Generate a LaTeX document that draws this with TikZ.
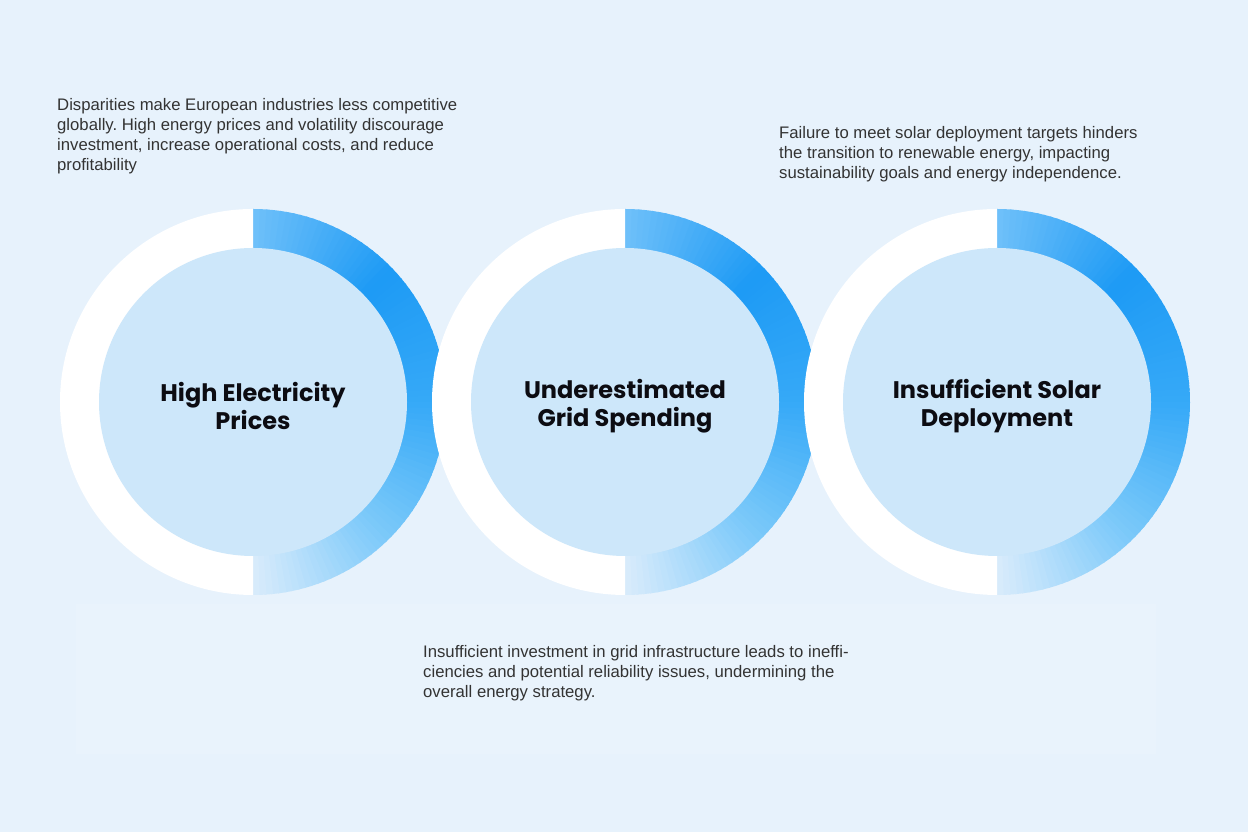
\documentclass[tikz,border=0pt]{standalone}
\usepackage{fontspec}
\setmainfont{Liberation Sans}
\newfontfamily\titlefont{Poppins}[UprightFont=* SemiBold,BoldFont=* Bold]
\definecolor{bg}{RGB}{231,242,252}
\definecolor{innerc}{RGB}{205,231,250}
\definecolor{desctext}{RGB}{51,51,51}
\definecolor{titletext}{RGB}{12,12,18}
\tikzset{
  desc/.style={anchor=north west, inner sep=0pt, align=left, text=desctext,
    font=\frenchspacing\fontsize{16.7}{20}\selectfont},
  inner disc/.style={circle, fill=innerc, minimum size=308pt, inner sep=0pt},
  title/.style={align=center, text=titletext, inner sep=0pt,
    font=\titlefont\bfseries\fontsize{24}{28}\selectfont},
}
\def\rs{{110,30,55,125,220}}
\def\gs{{192,155,170,202,237}}
\def\bs{{250,245,248,250,252}}
\begin{document}
\begin{tikzpicture}[x=1pt,y=1pt]
\useasboundingbox (0,0) rectangle (1248,832);
\fill[bg] (0,0) rectangle (1248,832);
% faint panel behind the bottom text
\fill[white, opacity=0.12] (76,78) rectangle (1156,228);
\foreach \cx/\nm/\ttl in {253/1/{High Electricity\\Prices},
                         625/2/{Underestimated\\Grid Spending},
                         997/3/{Insufficient Solar\\Deployment}}{
  \begin{scope}[shift={(\cx,430)}]
    \foreach \a in {90,88,...,-88}{
      \pgfmathsetmacro{\t}{(90-\a)/45}
      \pgfmathtruncatemacro{\i}{min(floor(\t),3)}
      \pgfmathsetmacro{\f}{\t-\i}
      \pgfmathtruncatemacro{\rr}{\rs[\i]*(1-\f)+\rs[\i+1]*\f}
      \pgfmathtruncatemacro{\gg}{\gs[\i]*(1-\f)+\gs[\i+1]*\f}
      \pgfmathtruncatemacro{\bb}{\bs[\i]*(1-\f)+\bs[\i+1]*\f}
      \definecolor{segc}{RGB}{\rr,\gg,\bb}
      \fill[segc] (0,0) -- (\a:193) arc[start angle=\a, end angle=\a-2.6, radius=193] -- cycle;
    }
    \fill[white] (0,193) arc[start angle=90, end angle=270, radius=193] -- cycle;
    \node[inner disc] (c\nm) at (0,0) {};
    \node[title] (t\nm) at (0,-4) {\ttl};
  \end{scope}
}
\node[desc] (d1) at (57,734) {Disparities make European industries less competitive\\
globally. High energy prices and volatility discourage\\
investment, increase operational costs, and reduce\\
profitability};
\node[desc] (d3) at (779,706) {Failure to meet solar deployment targets hinders\\
the transition to renewable energy, impacting\\
sustainability goals and energy independence.};
\node[desc] (d2) at (423,187) {Insufficient investment in grid infrastructure leads to ineffi-\\
ciencies and potential reliability issues, undermining the\\
overall energy strategy.};
\end{tikzpicture}
\end{document}
